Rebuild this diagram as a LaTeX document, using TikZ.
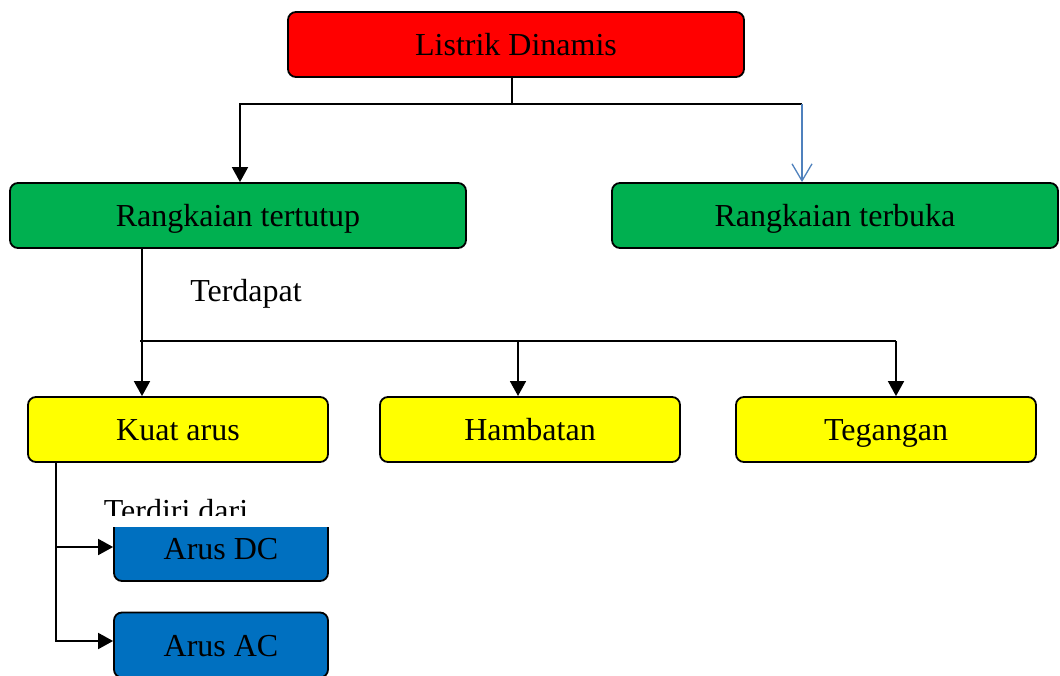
\documentclass[tikz,border=0pt]{standalone}
\usepackage{fontspec}
\setmainfont{Liberation Serif}
\usepackage{xcolor}
\usetikzlibrary{arrows.meta,positioning}

\definecolor{redbox}{HTML}{FF0000}
\definecolor{greenbox}{HTML}{00B050}
\definecolor{yellowbox}{HTML}{FFFF00}
\definecolor{bluebox}{HTML}{0070C0}
\definecolor{blueline}{HTML}{4F81BD}

\begin{document}
\begin{tikzpicture}[
    x=1pt, y=-1pt,
    font=\fontsize{32}{38}\selectfont,
    box/.style={rectangle, draw, rounded corners=8pt, line width=1.8pt, minimum height=65pt, inner sep=0pt, text height=22pt, text depth=0pt, align=center},
    main/.style={box, fill=redbox, minimum width=456pt},
    branch/.style={box, fill=greenbox},
    part/.style={box, fill=yellowbox, minimum width=300pt},
    kind/.style={box, fill=bluebox, minimum width=214pt},
    line/.style={line width=1.8pt},
    arrow/.style={line, -{Triangle[length=15pt,width=16pt]}},
    openarrow/.style={draw=blueline, line width=1.3pt, -{Straight Barb[length=17pt,width=20pt,line width=1.3pt]}}
]
    \useasboundingbox (0,0) rectangle (1060,675);

    \node[main] (ld) at (516,44.5) {Listrik Dinamis};
    \node[branch, minimum width=456pt] (rt) at (238,215.5) {Rangkaian tertutup};
    \node[branch, minimum width=446pt] (rb) at (835,215.5) {Rangkaian terbuka};

    \node[part] (ka) at (178,429.5) {Kuat arus};
    \node[part] (hb) at (530,429.5) {Hambatan};
    \node[part] (tg) at (886,429.5) {Tegangan};

    \node (terdapat) at (246,294) {Terdapat};
    \begin{scope}
        \clip (60,480) rectangle (340,515);
        \node (terdiri) at (176,511) {Terdiri dari};
    \end{scope}

    \begin{scope}
        \clip (100,527) rectangle (340,600);
        \node[kind, minimum height=66pt] (dc) at (221,548) {Arus DC};
    \end{scope}
    \node[kind] (ac) at (221,645) {Arus AC};

    % junction points
    \coordinate (jtop) at (512,104);
    \coordinate (jl) at (240,104);
    \coordinate (jr) at (802,104);
    \coordinate (jmid) at (142,341);
    \coordinate (jend) at (896,341);
    \coordinate (jka) at (56,462);

    \draw[line] (ld.south -| jtop) -- (jtop);
    \draw[arrow] (jr) -- (jl) -- (jl |- rt.north);
    \draw[openarrow] (jr) -- (jr |- rb.north);

    \draw[arrow] (rt.south -| jmid) -- (jmid |- ka.north);
    \draw[line] (jmid) ++(-2,0) -- (jend);
    \draw[arrow] (518,341) -- (518,396);
    \draw[arrow] (jend) -- (jend |- tg.north);

    \draw[line] (jka) -- (56,642);
    \draw[arrow] (56,547) -- (dc.west |- 0,547);
    \draw[arrow] (56,641) -- (ac.west |- 0,641);
\end{tikzpicture}
\end{document}
